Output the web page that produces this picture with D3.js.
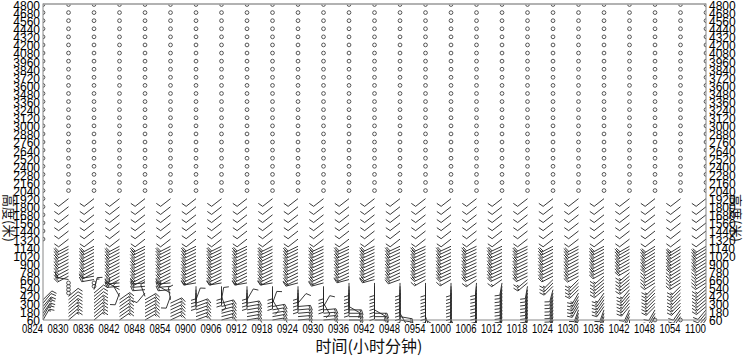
<!DOCTYPE html>
<html>
<head>
<meta charset="utf-8">
<script src="https://cdn.jsdelivr.net/npm/d3@7"></script>
<style>
  body { margin: 0; background: #fff; }
  svg { display: block; }
  .tick-label { font-family: "Liberation Sans", Arial, sans-serif; fill: #000; }
  .title { font-family: "Noto Sans CJK SC", sans-serif; fill: #111; }
</style>
</head>
<body>
<div id="vis"></div>
<script>
// time of each profile (hhmm)
const times = ["0824","0830","0836","0842","0848","0854","0900","0906","0912","0918","0924","0930","0936",
               "0942","0948","0954","1000","1006","1012","1018","1024","1030","1036","1042","1048","1054","1100"];

// height labels on both axes (m)
const yTicks = [60,180,300,420,540,660,780,900,1020,1140,1320,1440,1560,1680,1800,1920,2040,2160,2280,2400,
                2520,2640,2760,2880,3000,3120,3240,3360,3480,3600,3720,3840,3960,4080,4200,4320,4440,4560,4680,4800];

// calm (no wind) levels at the top of every profile
const calmLevels = [2040,2160,2280,2400,2520,2640,2760,2880,3000,3120,3240,3360,3480,3600,3720,3840,3960,
                    4080,4200,4320,4440,4560,4680,4800];

// upper mode levels
const upperLevels = [1320,1440,1560,1680,1800,1920];
const upperDir = [
  [0,0,0,0,0,0],
  [232,232,232,232,232,232],[232,232,232,232,232,232],[232,232,232,232,232,232],[232,232,232,232,232,232],
  [232,232,232,232,232,232],[232,232,232,232,232,232],[232,232,232,232,232,232],[232,232,232,232,232,232],
  [232,232,232,232,232,232],[232,232,232,232,232,232],[232,232,232,232,232,232],[232,232,232,232,232,232],
  [232,232,232,232,232,232],[232,232,232,232,232,232],[232,232,232,232,232,232],[232,232,232,232,232,232],
  [232,232,232,232,232,232],[232,232,232,232,232,232],[232,232,232,232,232,232],[232,232,232,232,232,232],
  [232,232,232,232,232,232],[232,232,232,232,232,232],[232,232,232,232,232,232],[232,232,232,232,232,232],
  [232,232,232,232,232,232],[232,232,232,232,232,232]
];
const upperSpd = [
  [0,0,0,0,0,0],
  [4,4,4,4,4,4],[4,4,4,4,4,4],[4,4,4,4,4,4],[4,4,4,4,4,4],[4,4,4,4,4,4],[4,4,4,4,4,4],[4,4,4,4,4,4],
  [4,4,4,4,4,4],[4,4,4,4,4,4],[4,4,4,4,4,4],[4,4,4,4,4,4],[4,4,4,4,4,4],[4,4,4,4,4,4],[4,4,4,4,4,4],
  [4,4,4,4,4,4],[4,4,4,4,4,4],[4,4,4,4,4,4],[4,4,4,4,4,4],[4,4,4,4,4,4],[4,4,4,4,4,4],[4,4,4,4,4,4],
  [4,4,4,4,4,4],[4,4,4,4,4,4],[4,4,4,4,4,4],[4,4,4,4,4,4],[4,4,4,4,4,4]
];

// low mode levels (m), bottom to top
const lowLevels = [60,110,160,210,260,310,360,410,460,510,560,610,660,710,760,810,860,910,960,1010,1060,1110,1160];
// wind direction (deg, from) per time, bottom to top; null = no data
const lowDir = [
  [30,30,35,35,40,40,45,null,null,null,null,null,null,null,null,null,null,null,null,null,null,null,null],
  [50,50,50,50,50,50,50,50,0,0,0,0,280,242,242,242,242,242,242,242,242,242,242],
  [50,50,50,50,50,50,50,50,50,15,0,0,260,260,242,242,242,242,242,242,242,242,242],
  [55,55,55,55,55,55,55,330,200,300,265,265,242,242,242,242,242,242,242,242,242,242,242],
  [60,60,60,60,60,60,60,340,220,265,265,265,243,243,243,243,243,243,243,243,243,243,243],
  [65,65,65,65,65,65,350,200,300,265,265,265,243,243,243,243,243,243,243,243,243,243,243],
  [70,70,70,70,70,70,20,180,180,180,180,260,244,244,244,244,244,244,244,244,244,244,244],
  [75,75,75,75,75,75,10,160,180,180,180,260,244,244,244,244,244,244,244,244,244,244,244],
  [80,80,80,80,80,80,30,180,180,180,180,260,244,244,244,244,244,244,244,244,244,244,244],
  [80,80,80,80,80,20,150,180,180,180,180,260,244,244,244,244,244,244,244,244,244,244,244],
  [85,85,85,85,85,40,180,180,180,180,180,255,244,244,244,244,244,244,244,244,244,244,244],
  [85,85,85,85,30,150,180,180,180,180,180,255,245,245,245,245,245,245,245,245,245,245,245],
  [90,90,90,90,120,180,180,180,180,180,180,180,255,245,245,245,245,245,245,245,245,245,245],
  [90,90,90,120,180,180,180,180,180,180,180,180,255,245,245,245,245,245,245,245,245,245,245],
  [100,100,150,180,180,180,180,180,180,180,180,180,250,245,245,245,245,245,245,245,245,245,245],
  [120,160,180,180,180,180,180,180,180,180,180,180,240,245,245,245,245,245,245,245,245,245,245],
  [150,180,180,180,180,180,180,180,180,180,180,180,240,245,245,245,245,245,245,245,245,245,245],
  [185,185,185,185,185,185,185,185,185,185,185,185,235,245,245,245,245,245,245,245,245,245,245],
  [190,190,190,190,190,190,190,190,190,190,190,190,235,245,245,245,245,245,245,245,245,245,245],
  [190,190,190,190,190,190,190,190,190,190,190,230,230,244,244,244,244,244,244,244,244,244,244],
  [195,195,195,195,195,195,195,195,195,195,225,225,225,243,243,243,243,243,243,243,243,243,243],
  [200,200,200,200,210,210,210,210,210,225,225,225,225,242,242,242,242,242,242,242,242,242,242],
  [200,200,200,200,215,215,215,215,215,230,230,230,230,230,242,242,242,242,242,242,242,242,242],
  [180,205,205,205,220,220,220,220,220,220,230,230,230,230,230,240,240,240,240,240,240,240,240],
  [0,210,210,210,225,225,225,225,225,225,225,238,238,238,238,238,238,238,238,238,238,238,238],
  [0,215,215,215,225,225,225,225,225,225,225,238,238,238,238,238,238,238,238,238,238,238,238],
  [220,220,220,220,230,230,230,230,230,230,230,238,238,238,238,238,238,238,238,238,238,238,238]
];
// wind speed (m/s) per time, bottom to top; 0 = calm
const lowSpd = [
  [6,6,6,6,6,4,4,null,null,null,null,null,null,null,null,null,null,null,null,null,null,null,null],
  [6,6,6,6,6,4,4,4,0,0,0,0,6,8,8,8,8,8,8,8,8,8,8],
  [6,6,6,6,6,6,4,4,4,6,0,0,6,6,8,8,8,8,8,8,8,8,8],
  [6,6,6,6,6,6,6,4,4,4,6,6,8,8,8,8,8,8,8,8,8,8,8],
  [6,6,6,6,6,6,6,4,4,6,6,6,8,8,8,8,8,8,8,8,8,8,8],
  [6,6,6,6,6,6,4,4,4,6,6,6,8,8,8,8,8,8,8,8,8,8,8],
  [6,6,6,6,6,6,4,4,4,4,4,6,8,8,8,8,8,8,8,8,8,8,8],
  [6,6,6,6,6,6,4,4,4,4,4,6,8,8,8,8,8,8,8,8,8,8,8],
  [6,6,6,6,6,6,4,4,4,4,4,6,8,8,8,8,8,8,8,8,8,8,8],
  [6,6,6,6,6,4,4,4,4,4,4,6,8,8,8,8,8,8,8,8,8,8,8],
  [6,6,6,6,6,4,4,4,4,4,4,6,8,8,8,8,8,8,8,8,8,8,8],
  [6,6,6,6,4,4,4,4,4,4,4,6,8,8,8,8,8,8,8,8,8,8,8],
  [6,6,6,6,4,4,4,4,4,4,4,4,6,8,8,8,8,8,8,8,8,8,8],
  [6,6,6,4,4,4,4,4,4,4,4,4,6,8,8,8,8,8,8,8,8,8,8],
  [6,6,4,4,4,4,4,4,4,4,4,4,6,8,8,8,8,8,8,8,8,8,8],
  [4,4,4,4,4,4,4,4,4,4,4,4,6,8,8,8,8,8,8,8,8,8,8],
  [4,4,4,4,4,4,4,4,4,4,4,4,6,8,8,8,8,8,8,8,8,8,8],
  [4,4,4,4,4,4,4,4,4,4,4,4,6,8,8,8,8,8,8,8,8,8,8],
  [4,4,4,4,4,4,4,4,4,4,4,4,6,8,8,8,8,8,8,8,8,8,8],
  [4,4,4,4,4,4,4,4,4,4,4,6,6,8,8,8,8,8,8,8,8,8,8],
  [4,4,4,4,4,4,4,4,4,4,6,6,6,8,8,8,8,8,8,8,8,8,8],
  [4,4,4,4,6,6,6,6,6,6,6,6,6,8,8,8,8,8,8,8,8,8,8],
  [4,4,4,4,6,6,6,6,6,6,6,6,6,6,8,8,8,8,8,8,8,8,8],
  [2,4,4,4,6,6,6,6,6,6,6,6,6,6,6,8,8,8,8,8,8,8,8],
  [0,4,4,4,6,6,6,6,6,6,6,6,6,6,6,6,8,8,8,8,8,8,8],
  [0,4,4,4,6,6,6,6,6,6,6,6,6,6,6,6,8,8,8,8,8,8,8],
  [4,4,4,4,6,6,6,6,6,6,6,6,6,6,6,6,8,8,8,8,8,8,8]
];

const width = 746, height = 356;
const plotL = 43, plotR = 706, plotT = 4.5, plotB = 320;
const step = (plotB - plotT) / (yTicks.length - 1);

const svg = d3.select("#vis").append("svg")
  .attr("width", width).attr("height", height);

const x = d3.scalePoint().domain(times).range([plotL, plotR]);
// heights are spaced by label index, with a break between 1140 and 1320
const y = d3.scaleLinear()
  .domain([60, 1140, 1320, 4800])
  .range([plotB, plotB - 9 * step, plotB - 10 * step, plotT]);

svg.append("clipPath").attr("id", "plot")
  .append("rect").attr("x", plotL).attr("y", plotT).attr("width", plotR - plotL).attr("height", plotB - plotT + 3);

// barb geometry (like matplotlib defaults)
const L = 12.5, BH = 0.4 * L, BW = 0.25 * L, SP = 0.125 * L;

function barbPath(px, py, dir, spd) {
  const r = dir * Math.PI / 180;
  const sx = Math.sin(r), sy = -Math.cos(r);   // staff toward where wind comes from
  const qx = Math.cos(r), qy = Math.sin(r);    // barbs on clockwise side
  const pt = (a, b) => [px + a * qx + b * sx, py + a * qy + b * sy];
  let n = Math.round(spd / 2) * 2;
  const flags = Math.floor(n / 20); n -= flags * 20;
  const full = Math.floor(n / 4); n -= full * 4;
  const half = n >= 2;
  const p = d3.path();
  p.moveTo(...pt(0, 0)); p.lineTo(...pt(0, L));
  let off = 0;
  for (let i = 0; i < flags; i++) {
    p.moveTo(...pt(0, L - off)); p.lineTo(...pt(BH, L - off - BW / 2)); p.lineTo(...pt(0, L - off - BW)); p.closePath();
    off += BW + SP;
  }
  for (let i = 0; i < full; i++) {
    p.moveTo(...pt(0, L - off)); p.lineTo(...pt(BH, L - off + BW / 2));
    off += SP;
  }
  if (half) {
    if (off === 0) off = 1.5 * SP;
    p.moveTo(...pt(0, L - off)); p.lineTo(...pt(BH / 2, L - off + BW / 4));
  }
  return p.toString();
}

// collect all observations
let obs = [];
times.forEach((t, i) => {
  calmLevels.forEach(h => obs.push({t: t, h: h, dir: 0, spd: 0}));
  upperLevels.forEach((h, j) => obs.push({t: t, h: h, dir: upperDir[i][j], spd: upperSpd[i][j]}));
  lowLevels.forEach((h, j) => {
    if (lowSpd[i][j] !== null) obs.push({t: t, h: h, dir: lowDir[i][j], spd: lowSpd[i][j]});
  });
});

// axis titles sit under the tick labels
svg.append("text").attr("class", "title")
  .attr("transform", "translate(9,218) rotate(90)").attr("text-anchor", "middle")
  .attr("dominant-baseline", "central")
  .attr("font-size", 13).attr("fill", "#666")
  .text("高度(米)");
svg.append("text").attr("class", "title")
  .attr("transform", "translate(736,218) rotate(90)").attr("text-anchor", "middle")
  .attr("dominant-baseline", "central")
  .attr("font-size", 13).attr("fill", "#666")
  .text("高度(米)");

const g = svg.append("g").attr("clip-path", "url(#plot)");

g.selectAll(".calm").data(obs.filter(d => Math.round(d.spd / 2) * 2 < 2))
  .enter().append("circle")
  .attr("class", "calm")
  .attr("cx", d => x(d.t)).attr("cy", d => y(d.h))
  .attr("r", 0.15 * L)
  .attr("fill", "none").attr("stroke", "#444").attr("stroke-width", 0.9);

g.selectAll(".barb").data(obs.filter(d => Math.round(d.spd / 2) * 2 >= 2))
  .enter().append("path")
  .attr("class", "barb")
  .attr("d", d => barbPath(x(d.t), y(d.h), d.dir, d.spd))
  .attr("fill", "#222").attr("stroke", "#222").attr("stroke-width", 0.9)
  .attr("fill-opacity", 0);

// frame
svg.append("line").attr("x1", plotL).attr("x2", plotR).attr("y1", plotT - 0.5).attr("y2", plotT - 0.5)
  .attr("stroke", "#999").attr("stroke-width", 1.5);
svg.append("line").attr("x1", plotL).attr("x2", plotR).attr("y1", plotB).attr("y2", plotB)
  .attr("stroke", "#888").attr("stroke-width", 1);
svg.append("line").attr("x1", plotL).attr("x2", plotL).attr("y1", plotT - 1).attr("y2", plotB)
  .attr("stroke", "#888").attr("stroke-width", 1);
svg.append("line").attr("x1", plotR).attr("x2", plotR).attr("y1", plotT - 1).attr("y2", plotB)
  .attr("stroke", "#888").attr("stroke-width", 1);

// y labels both sides
svg.selectAll(".yl").data(yTicks).enter().append("text")
  .attr("class", "tick-label")
  .attr("x", plotL - 3).attr("y", d => y(d)).attr("dy", "0.45em")
  .attr("text-anchor", "end").attr("font-size", 12)
  .text(d => d);
svg.selectAll(".yr").data(yTicks).enter().append("text")
  .attr("class", "tick-label")
  .attr("x", plotR + 3).attr("y", d => y(d)).attr("dy", "0.45em")
  .attr("text-anchor", "start").attr("font-size", 12)
  .text(d => d);

// x labels (narrow face: squeeze each label to the reference width)
svg.selectAll(".xl").data(times).enter().append("text")
  .attr("class", "tick-label")
  .attr("x", d => x(d) - 21).attr("y", 333)
  .attr("textLength", 21).attr("lengthAdjust", "spacingAndGlyphs")
  .attr("font-size", 12.5)
  .text(d => d);

// x title
svg.append("text").attr("class", "title")
  .attr("x", 369).attr("y", 352).attr("text-anchor", "middle").attr("font-size", 16)
  .text("时间(小时分钟)");
</script>
</body>
</html>
